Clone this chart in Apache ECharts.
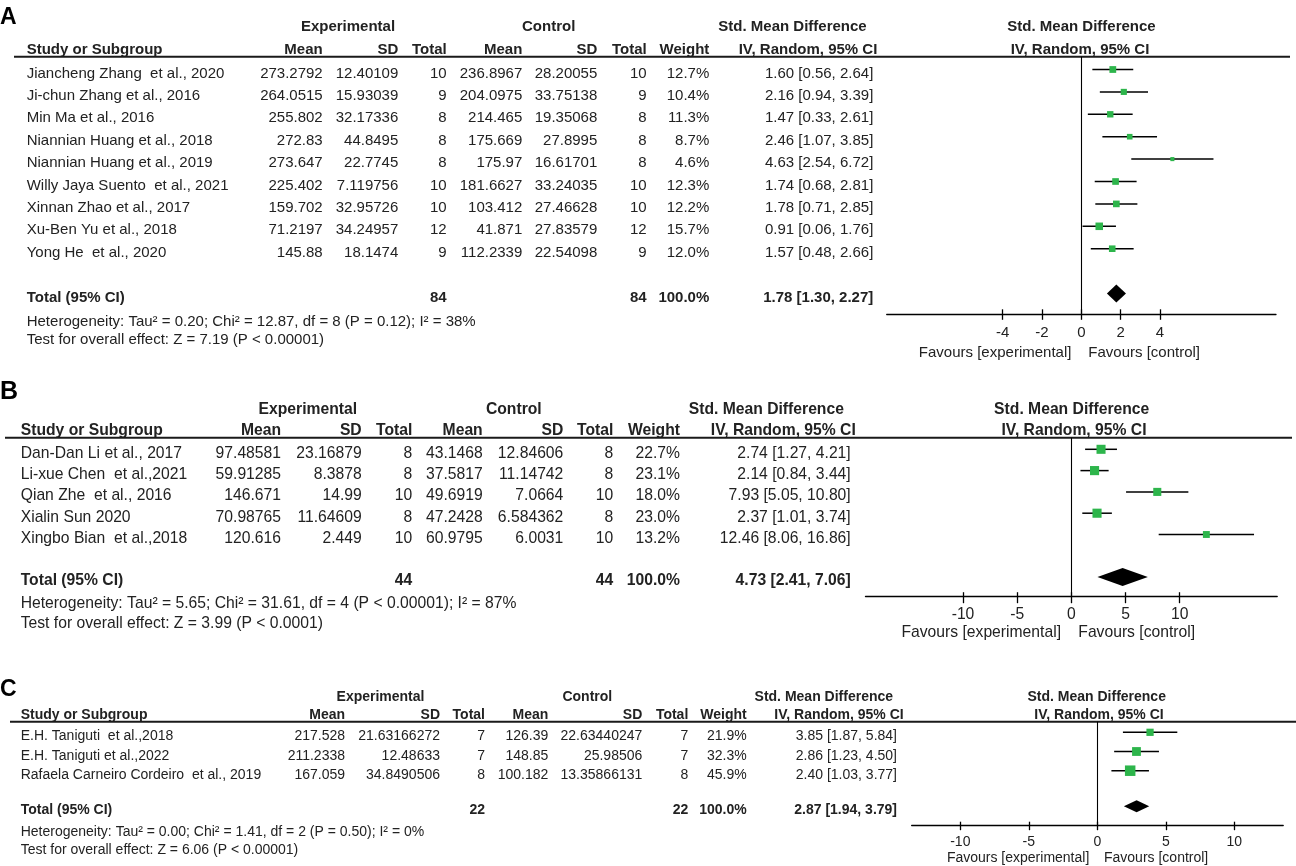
<!DOCTYPE html>
<html><head><meta charset="utf-8">
<script src="https://cdn.jsdelivr.net/npm/echarts@6.0.0/dist/echarts.min.js"></script>
<style>html,body{margin:0;padding:0;background:#fff}#c{width:1296px;height:866px}</style>
</head><body><div id="c"></div>
<script>
// ===================== DATA =====================
// ---- Panel A ----
const studiesA = ["Jiancheng Zhang  et al., 2020","Ji-chun Zhang et al., 2016","Min Ma et al., 2016","Niannian Huang et al., 2018","Niannian Huang et al., 2019","Willy Jaya Suento  et al., 2021","Xinnan Zhao et al., 2017","Xu-Ben Yu et al., 2018","Yong He  et al., 2020"];
const expMeanA = ["273.2792","264.0515","255.802","272.83","273.647","225.402","159.702","71.2197","145.88"];
const expSDA   = ["12.40109","15.93039","32.17336","44.8495","22.7745","7.119756","32.95726","34.24957","18.1474"];
const expNA    = [10,9,8,8,8,10,10,12,9];
const ctlMeanA = ["236.8967","204.0975","214.465","175.669","175.97","181.6627","103.412","41.871","112.2339"];
const ctlSDA   = ["28.20055","33.75138","19.35068","27.8995","16.61701","33.24035","27.46628","27.83579","22.54098"];
const ctlNA    = [10,9,8,8,8,10,10,12,9];
const weightA  = [12.7,10.4,11.3,8.7,4.6,12.3,12.2,15.7,12.0];
const smdA     = [1.60,2.16,1.47,2.46,4.63,1.74,1.78,0.91,1.57];
const lowA     = [0.56,0.94,0.33,1.07,2.54,0.68,0.71,0.06,0.48];
const highA    = [2.64,3.39,2.61,3.85,6.72,2.81,2.85,1.76,2.66];
const totalA   = [84,84,100.0,1.78,1.30,2.27]; // expN, ctlN, weight, smd, low, high
const hetA  = "Heterogeneity: Tau\u00b2 = 0.20; Chi\u00b2 = 12.87, df = 8 (P = 0.12); I\u00b2 = 38%";
const testA = "Test for overall effect: Z = 7.19 (P < 0.00001)";
const ticksA = [-4,-2,0,2,4];

// ---- Panel B ----
const studiesB = ["Dan-Dan Li et al., 2017","Li-xue Chen  et al.,2021","Qian Zhe  et al., 2016","Xialin Sun 2020","Xingbo Bian  et al.,2018"];
const expMeanB = ["97.48581","59.91285","146.671","70.98765","120.616"];
const expSDB   = ["23.16879","8.3878","14.99","11.64609","2.449"];
const expNB    = [8,8,10,8,10];
const ctlMeanB = ["43.1468","37.5817","49.6919","47.2428","60.9795"];
const ctlSDB   = ["12.84606","11.14742","7.0664","6.584362","6.0031"];
const ctlNB    = [8,8,10,8,10];
const weightB  = [22.7,23.1,18.0,23.0,13.2];
const smdB     = [2.74,2.14,7.93,2.37,12.46];
const lowB     = [1.27,0.84,5.05,1.01,8.06];
const highB    = [4.21,3.44,10.80,3.74,16.86];
const totalB   = [44,44,100.0,4.73,2.41,7.06];
const hetB  = "Heterogeneity: Tau\u00b2 = 5.65; Chi\u00b2 = 31.61, df = 4 (P < 0.00001); I\u00b2 = 87%";
const testB = "Test for overall effect: Z = 3.99 (P < 0.0001)";
const ticksB = [-10,-5,0,5,10];

// ---- Panel C ----
const studiesC = ["E.H. Taniguti  et al.,2018","E.H. Taniguti et al.,2022","Rafaela Carneiro Cordeiro  et al., 2019"];
const expMeanC = ["217.528","211.2338","167.059"];
const expSDC   = ["21.63166272","12.48633","34.8490506"];
const expNC    = [7,7,8];
const ctlMeanC = ["126.39","148.85","100.182"];
const ctlSDC   = ["22.63440247","25.98506","13.35866131"];
const ctlNC    = [7,7,8];
const weightC  = [21.9,32.3,45.9];
const smdC     = [3.85,2.86,2.40];
const lowC     = [1.87,1.23,1.03];
const highC    = [5.84,4.50,3.77];
const totalC   = [22,22,100.0,2.87,1.94,3.79];
const hetC  = "Heterogeneity: Tau\u00b2 = 0.00; Chi\u00b2 = 1.41, df = 2 (P = 0.50); I\u00b2 = 0%";
const testC = "Test for overall effect: Z = 6.06 (P < 0.00001)";
const ticksC = [-10,-5,0,5,10];

// ===================== LAYOUT / STYLE =====================
const FONT = '"Liberation Sans", Arial, Helvetica, sans-serif';
const TXT = '#222222';
const GREEN = '#2db54b';

const panels = [
  { letter:'A', studies:studiesA, expMean:expMeanA, expSD:expSDA, expN:expNA, ctlMean:ctlMeanA, ctlSD:ctlSDA, ctlN:ctlNA,
    weight:weightA, smd:smdA, low:lowA, high:highA, total:totalA, het:hetA, test:testA, ticks:ticksA,
    L:{ letterY:18, letterSize:23, fs:15, rowY0:69.5, rowStep:22.4, textDy:4, lineY:56.7, lineX0:14, lineX1:1290,
        axisY:314.3, zeroX:1081.35, scale:19.66, xMin:-9.9, xMax:9.9, tickUp:5, tickDown:5.5, labelMargin:11,
        h1Y:26.7, h2Y:49.5, totalRow:10, hetY:321.7, testY:340, favY:352.7, favL:1071.4, favR:1088.3, diamondH:9, sqK:1.9,
        cols:{study:26.7, expMean:322.7, expSD:398.3, expN:446.7, ctlMean:522.3, ctlSD:597.3, ctlN:646.7, weight:709.3, ci:873.3},
        h1:{exp:348, ctl:548.7, smd:792.5, plot:1081.5}, h2IV:808, h2Plot:1080 } },
  { letter:'B', studies:studiesB, expMean:expMeanB, expSD:expSDB, expN:expNB, ctlMean:ctlMeanB, ctlSD:ctlSDB, ctlN:ctlNB,
    weight:weightB, smd:smdB, low:lowB, high:highB, total:totalB, het:hetB, test:testB, ticks:ticksB,
    L:{ letterY:392.5, letterSize:25, fs:15.7, rowY0:449.3, rowStep:21.3, textDy:4, lineY:437.7, lineX0:5, lineX1:1292,
        axisY:596.7, zeroX:1071.35, scale:10.835, xMin:-19, xMax:19, tickUp:4.5, tickDown:6.5, labelMargin:9.5,
        h1Y:409.7, h2Y:431, totalRow:6, hetY:603.3, testY:624, favY:633, favL:1061, favR:1078.3, diamondH:9, sqK:1.9,
        cols:{study:20.7, expMean:281, expSD:361.7, expN:412.3, ctlMean:482.7, ctlSD:563.3, ctlN:613.3, weight:680, ci:850.7},
        h1:{exp:307.8, ctl:513.8, smd:766.3, plot:1071.7}, h2IV:783.3, h2Plot:1074 } },
  { letter:'C', studies:studiesC, expMean:expMeanC, expSD:expSDC, expN:expNC, ctlMean:ctlMeanC, ctlSD:ctlSDC, ctlN:ctlNC,
    weight:weightC, smd:smdC, low:lowC, high:highC, total:totalC, het:hetC, test:testC, ticks:ticksC,
    L:{ letterY:690, letterSize:23, fs:14, rowY0:732.3, rowStep:19.2, textDy:4.3, lineY:721.7, lineX0:10, lineX1:1296,
        axisY:825.7, zeroX:1097.3, scale:13.7, xMin:-13.55, xMax:13.57, tickUp:4, tickDown:4.5, labelMargin:9,
        h1Y:696.7, h2Y:715, totalRow:3.85, hetY:831.7, testY:850, favY:858.3, favL:1089.3, favR:1104, diamondH:6, sqK:1.55,
        cols:{study:20.7, expMean:345, expSD:440, expN:485, ctlMean:548.3, ctlSD:642.3, ctlN:688.3, weight:746.7, ci:897},
        h1:{exp:380.5, ctl:587.3, smd:823.8, plot:1096.7}, h2IV:839, h2Plot:1099 } }
];

const grids = [], xAxes = [], yAxes = [], series = [], graphics = [];

function txt(x, y, text, size, bold, align, color) {
  return { type:'text', silent:true, x:x, y:y,
    style:{ text:text, font:(bold?'bold ':'') + size + 'px ' + FONT, fill:color||TXT, align:align||'left', verticalAlign:'middle' } };
}
const ci = (e,l,h) => e.toFixed(2) + ' [' + l.toFixed(2) + ', ' + h.toFixed(2) + ']';

panels.forEach((p, pi) => {
  const L = p.L;
  const yMin = (L.lineY - L.rowY0) / L.rowStep;
  const yMax = (L.axisY - L.rowY0) / L.rowStep;
  const gH = L.axisY - L.lineY;
  const gTable = grids.length;
  grids.push({ left:0, top:L.lineY + L.textDy, width:1296, height:gH, containLabel:false, outerBoundsMode:'none' });
  const gForest = grids.length;
  grids.push({ left:L.zeroX + L.xMin*L.scale, top:L.lineY, width:(L.xMax - L.xMin)*L.scale, height:gH, containLabel:false, outerBoundsMode:'none' });

  const xT = xAxes.length;
  xAxes.push({ gridIndex:gTable, type:'value', min:0, max:1296, show:false });
  const xF = xAxes.length;
  const lineStyle = { color:'#000', width:1.3 };
  xAxes.push({ gridIndex:gForest, type:'value', min:L.xMin, max:L.xMax, position:'bottom',
    axisLine:{ show:true, onZero:false, lineStyle:lineStyle },
    axisTick:{ show:true, length:L.tickDown, customValues:p.ticks, lineStyle:lineStyle },
    axisLabel:{ show:true, customValues:p.ticks, margin:L.labelMargin, fontSize:L.fs, fontFamily:FONT, color:TXT },
    splitLine:{ show:false } });
  xAxes.push({ gridIndex:gForest, type:'value', min:L.xMin, max:L.xMax, position:'bottom',
    axisLine:{ show:false, onZero:false },
    axisTick:{ show:true, inside:true, length:L.tickUp, customValues:p.ticks, lineStyle:lineStyle },
    axisLabel:{ show:false }, splitLine:{ show:false } });

  const yT = yAxes.length;
  yAxes.push({ gridIndex:gTable, type:'value', inverse:true, min:yMin, max:yMax, show:false });
  const yF = yAxes.length;
  yAxes.push({ gridIndex:gForest, type:'value', inverse:true, min:yMin, max:yMax, show:false });

  // ---- table cells ----
  const C = L.cols;
  const cells = [];
  p.studies.forEach((s, i) => {
    cells.push([C.study, i, s, 'left', false]);
    cells.push([C.expMean, i, p.expMean[i], 'right', false]);
    cells.push([C.expSD, i, p.expSD[i], 'right', false]);
    cells.push([C.expN, i, String(p.expN[i]), 'right', false]);
    cells.push([C.ctlMean, i, p.ctlMean[i], 'right', false]);
    cells.push([C.ctlSD, i, p.ctlSD[i], 'right', false]);
    cells.push([C.ctlN, i, String(p.ctlN[i]), 'right', false]);
    cells.push([C.weight, i, p.weight[i].toFixed(1) + '%', 'right', false]);
    cells.push([C.ci, i, ci(p.smd[i], p.low[i], p.high[i]), 'right', false]);
  });
  const t = p.total, tr = L.totalRow;
  cells.push([C.study, tr, 'Total (95% CI)', 'left', true]);
  cells.push([C.expN, tr, String(t[0]), 'right', true]);
  cells.push([C.ctlN, tr, String(t[1]), 'right', true]);
  cells.push([C.weight, tr, t[2].toFixed(1) + '%', 'right', true]);
  cells.push([C.ci, tr, ci(t[3], t[4], t[5]), 'right', true]);

  series.push({ type:'custom', xAxisIndex:xT, yAxisIndex:yT, silent:true, animation:false, clip:false,
    data: cells.map(c => [c[0], c[1]]),
    encode:{ x:0, y:1 },
    renderItem: (params, api) => {
      const c = cells[params.dataIndex];
      const pt = api.coord([c[0], c[1]]);
      return { type:'text', x:pt[0], y:pt[1],
        style:{ text:c[2], font:(c[4]?'bold ':'') + L.fs + 'px ' + FONT, fill:TXT, align:c[3], verticalAlign:'middle' } };
    } });

  // ---- whiskers ----
  series.push({ type:'custom', xAxisIndex:xF, yAxisIndex:yF, silent:true, animation:false,
    data: p.smd.map((v, i) => [i, p.low[i], p.high[i]]),
    encode:{ x:[1,2], y:0 },
    renderItem: (params, api) => {
      const a = api.coord([api.value(1), api.value(0)]);
      const b = api.coord([api.value(2), api.value(0)]);
      return { type:'line', shape:{ x1:a[0], y1:a[1], x2:b[0], y2:b[1] }, style:{ stroke:'#000', lineWidth:1.5 } };
    } });

  // ---- squares + zero line ----
  series.push({ type:'scatter', xAxisIndex:xF, yAxisIndex:yF, silent:true, animation:false,
    symbol:'rect', symbolSize:(v) => Math.sqrt(v[2]) * L.sqK,
    itemStyle:{ color:GREEN, opacity:1 },
    data: p.smd.map((v, i) => [v, i, p.weight[i]]),
    z:3,
    markLine:{ silent:true, animation:false, symbol:['none','none'], label:{ show:false },
      lineStyle:{ color:'#000', width:1.1, type:'solid' }, emphasis:{ disabled:true },
      data:[{ xAxis:0 }] } });

  // ---- diamond ----
  series.push({ type:'custom', xAxisIndex:xF, yAxisIndex:yF, silent:true, animation:false,
    data:[[t[3], t[4], t[5], tr]],
    encode:{ x:[0,1,2], y:3 },
    renderItem: (params, api) => {
      const c = api.coord([api.value(0), api.value(3)]);
      const l = api.coord([api.value(1), api.value(3)]);
      const r = api.coord([api.value(2), api.value(3)]);
      const h = L.diamondH;
      return { type:'polygon', shape:{ points:[[l[0], c[1]], [c[0], c[1]-h], [r[0], c[1]], [c[0], c[1]+h]] },
        style:{ fill:'#000' } };
    } });

  // ---- headers, lines, footers ----
  const fs = L.fs;
  graphics.push(txt(0, L.letterY, p.letter, L.letterSize, true, 'left', '#000'));
  graphics.push(txt(L.h1.exp, L.h1Y, 'Experimental', fs, true, 'center'));
  graphics.push(txt(L.h1.ctl, L.h1Y, 'Control', fs, true, 'center'));
  graphics.push(txt(L.h1.smd, L.h1Y, 'Std. Mean Difference', fs, true, 'center'));
  graphics.push(txt(L.h1.plot, L.h1Y, 'Std. Mean Difference', fs, true, 'center'));
  graphics.push(txt(C.study, L.h2Y, 'Study or Subgroup', fs, true, 'left'));
  graphics.push(txt(C.expMean, L.h2Y, 'Mean', fs, true, 'right'));
  graphics.push(txt(C.expSD, L.h2Y, 'SD', fs, true, 'right'));
  graphics.push(txt(C.expN, L.h2Y, 'Total', fs, true, 'right'));
  graphics.push(txt(C.ctlMean, L.h2Y, 'Mean', fs, true, 'right'));
  graphics.push(txt(C.ctlSD, L.h2Y, 'SD', fs, true, 'right'));
  graphics.push(txt(C.ctlN, L.h2Y, 'Total', fs, true, 'right'));
  graphics.push(txt(C.weight, L.h2Y, 'Weight', fs, true, 'right'));
  graphics.push(txt(L.h2IV, L.h2Y, 'IV, Random, 95% CI', fs, true, 'center'));
  graphics.push(txt(L.h2Plot, L.h2Y, 'IV, Random, 95% CI', fs, true, 'center'));
  graphics.push({ type:'line', silent:true, shape:{ x1:L.lineX0, y1:L.lineY, x2:L.lineX1, y2:L.lineY },
    style:{ stroke:'#1a1a1a', lineWidth:2 } });
  graphics.push(txt(C.study, L.hetY, p.het, fs, false, 'left'));
  graphics.push(txt(C.study, L.testY, p.test, fs, false, 'left'));
  graphics.push(txt(L.favL, L.favY, 'Favours [experimental]', fs, false, 'right'));
  graphics.push(txt(L.favR, L.favY, 'Favours [control]', fs, false, 'left'));
});

const chart = echarts.init(document.getElementById('c'), null, { renderer:'canvas' });
chart.setOption({
  backgroundColor:'#ffffff',
  animation:false,
  textStyle:{ fontFamily:FONT },
  grid:grids, xAxis:xAxes, yAxis:yAxes, series:series,
  graphic:{ elements:graphics }
});
</script>
</body></html>
